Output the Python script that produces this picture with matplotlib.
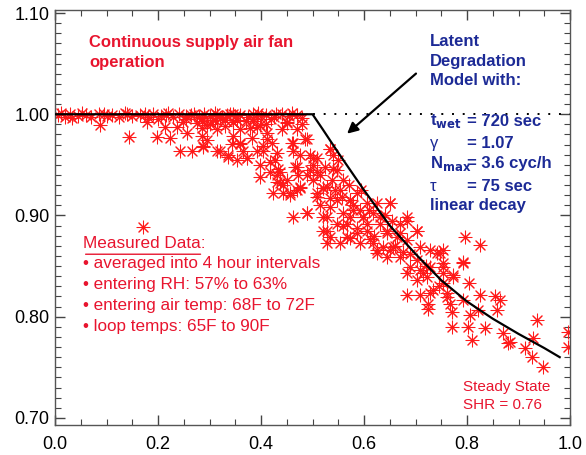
import matplotlib.pyplot as plt
from matplotlib.ticker import MultipleLocator

plt.rcParams['font.family'] = ['Liberation Sans', 'DejaVu Sans']

# -------------------------
# Datos medidos (SHR vs. fraccion de tiempo)
# -------------------------
band_x = [0.005, 0.02, 0.03, 0.045, 0.06, 0.07, 0.085, 0.10, 0.11, 0.125,
          0.14, 0.15, 0.165, 0.18, 0.19, 0.205, 0.215, 0.23, 0.24, 0.255,
          0.265, 0.28, 0.29, 0.30, 0.315, 0.325, 0.34, 0.35, 0.36, 0.375,
          0.385, 0.40, 0.41, 0.425, 0.44, 0.455, 0.47, 0.385, 0.33, 0.255,
          0.012, 0.052, 0.095, 0.135, 0.175, 0.22, 0.27, 0.31, 0.345, 0.395,
          0.43, 0.46, 0.48, 0.37, 0.285, 0.20]
band_y = [0.999, 0.997, 1.000, 0.998, 0.999, 0.997, 1.000, 0.998, 0.999, 0.997,
          1.000, 0.998, 0.999, 0.997, 1.000, 0.998, 0.999, 0.997, 1.000, 0.998,
          0.999, 0.997, 1.000, 0.998, 0.999, 0.997, 1.000, 0.998, 0.999, 0.997,
          1.000, 0.998, 0.999, 0.997, 1.000, 0.998, 0.999, 0.995, 0.994, 0.995,
          1.001, 1.001, 1.000, 1.001, 1.000, 1.001, 1.000, 1.001, 1.000, 1.001,
          1.000, 1.001, 0.996, 0.993, 0.996, 0.995]

cloud_x = [0.033, 0.087, 0.144, 0.198, 0.171, 0.178, 0.223, 0.214, 0.249, 0.243,
           0.266, 0.285, 0.288, 0.285, 0.314, 0.307, 0.256, 0.237, 0.275,
           0.311, 0.334, 0.353, 0.450, 0.320, 0.336, 0.359, 0.353, 0.373, 0.382,
           0.392, 0.412, 0.421, 0.404, 0.398, 0.398, 0.427, 0.431, 0.437, 0.443,
           0.460, 0.462, 0.466, 0.472, 0.470, 0.485, 0.495, 0.509, 0.495, 0.501,
           0.515, 0.520, 0.509, 0.534, 0.524, 0.548, 0.538, 0.544, 0.559, 0.557,
           0.573, 0.586, 0.579, 0.606, 0.598, 0.617, 0.462, 0.489, 0.520, 0.417,
           0.433, 0.450, 0.456, 0.476, 0.540, 0.365, 0.344, 0.480, 0.420,
           0.489, 0.509, 0.528, 0.521, 0.534, 0.528, 0.547, 0.559, 0.567, 0.553,
           0.579, 0.586, 0.573, 0.598, 0.605, 0.592, 0.618, 0.625, 0.650, 0.631,
           0.644, 0.637, 0.625, 0.650, 0.664, 0.670, 0.683, 0.702, 0.683, 0.670,
           0.689, 0.702, 0.683, 0.709, 0.722, 0.702, 0.683, 0.709, 0.734, 0.741,
           0.753, 0.753, 0.773, 0.761, 0.792, 0.796, 0.724, 0.767,
           0.715, 0.728, 0.725, 0.754, 0.754, 0.773, 0.793, 0.761, 0.771, 0.771,
           0.793, 0.803, 0.806, 0.802, 0.809, 0.825, 0.822, 0.835, 0.854, 0.864,
           0.858, 0.870, 0.883, 0.913, 0.926, 0.929, 0.935, 0.948, 0.996, 0.996,
           0.825, 0.880, 0.610, 0.640, 0.660, 0.595, 0.570, 0.550, 0.500, 0.470,
           0.440, 0.410, 0.385, 0.515, 0.560, 0.620, 0.655, 0.690, 0.720, 0.745,
           0.285, 0.300, 0.315, 0.330, 0.345, 0.360, 0.295, 0.336, 0.372, 0.359,
           0.346, 0.379, 0.398, 0.411, 0.417, 0.431, 0.437, 0.443, 0.450, 0.462,
           0.476, 0.470, 0.489, 0.501, 0.489, 0.476, 0.508, 0.520, 0.534, 0.540,
           0.534, 0.431, 0.424, 0.456, 0.295, 0.288, 0.320, 0.346, 0.392, 0.404,
           0.528, 0.553, 0.573, 0.534, 0.547, 0.573, 0.592, 0.605, 0.586, 0.567,
           0.612, 0.631, 0.650, 0.644, 0.656, 0.670, 0.683, 0.702, 0.676, 0.644,
           0.625, 0.709, 0.728, 0.748, 0.728, 0.754, 0.528]
cloud_y = [0.996, 0.989, 0.978, 0.978, 0.889, 0.992, 0.977, 0.987, 0.992, 0.964,
           0.964, 0.979, 0.968, 0.986, 0.964, 0.994, 0.981, 0.987, 0.991,
           0.994, 0.999, 0.994, 0.991, 0.964, 0.958, 0.971, 0.955, 0.957, 0.977,
           0.987, 0.981, 0.972, 0.964, 0.950, 0.938, 0.955, 0.940, 0.932, 0.922,
           0.972, 0.964, 0.948, 0.940, 0.925, 0.976, 0.960, 0.957, 0.945, 0.935,
           0.940, 0.927, 0.918, 0.966, 0.948, 0.945, 0.935, 0.925, 0.935, 0.918,
           0.915, 0.922, 0.905, 0.912, 0.898, 0.902, 0.898, 0.902, 0.898, 0.943,
           0.946, 0.935, 0.922, 0.928, 0.960, 0.964, 0.971, 0.990, 0.995,
           0.902, 0.922, 0.898, 0.885, 0.879, 0.873, 0.915, 0.902, 0.892, 0.873,
           0.910, 0.888, 0.878, 0.898, 0.885, 0.873, 0.873, 0.912, 0.912, 0.892,
           0.883, 0.869, 0.863, 0.866, 0.879, 0.892, 0.895, 0.885, 0.876, 0.859,
           0.849, 0.856, 0.843, 0.846, 0.839, 0.836, 0.821, 0.821, 0.826, 0.863,
           0.866, 0.849, 0.839, 0.823, 0.854, 0.879, 0.813, 0.813,
           0.843, 0.823, 0.808, 0.853, 0.833, 0.841, 0.853, 0.819, 0.805, 0.790,
           0.816, 0.833, 0.802, 0.790, 0.777, 0.821, 0.807, 0.789, 0.820, 0.816,
           0.807, 0.784, 0.775, 0.769, 0.760, 0.779, 0.797, 0.750, 0.785, 0.770,
           0.871, 0.774, 0.905, 0.900, 0.870, 0.925, 0.930, 0.955, 0.950, 0.985,
           0.985, 0.990, 0.993, 0.910, 0.890, 0.880, 0.895, 0.862, 0.850, 0.830,
           0.993, 0.990, 0.985, 0.988, 0.992, 0.985, 0.975, 0.960, 0.957, 0.972,
           0.979, 0.986, 0.989, 0.976, 0.953, 0.962, 0.943, 0.930, 0.992, 0.972,
           0.960, 0.948, 0.976, 0.957, 0.940, 0.927, 0.943, 0.927, 0.966, 0.946,
           0.917, 0.933, 0.922, 0.920, 0.989, 0.969, 0.996, 0.992, 0.964, 0.969,
           0.928, 0.925, 0.915, 0.908, 0.892, 0.898, 0.905, 0.892, 0.883, 0.879,
           0.877, 0.898, 0.912, 0.885, 0.869, 0.883, 0.898, 0.885, 0.864, 0.859,
           0.866, 0.869, 0.866, 0.863, 0.849, 0.843, 0.885]

shr_x = band_x + cloud_x
shr_y = band_y + cloud_y

# -------------------------
# Modelo de degradacion latente
# -------------------------
model_x = [0.0, 0.50, 0.52, 0.55, 0.60, 0.65, 0.70, 0.75, 0.80, 0.85, 0.90, 0.95, 0.98]
model_y = [1.0, 1.0, 0.985, 0.962, 0.925, 0.890, 0.862, 0.836, 0.815, 0.798, 0.783, 0.769, 0.760]

red = '#e8142e'
blue = '#1c2a96'

fig = plt.figure(figsize=(5.86, 4.55), dpi=100)
ax = fig.add_axes([0.0939, 0.066, 0.8788, 0.912])

ax.scatter(shr_x, shr_y, s=85, marker=(8, 2, 0), color='#ff1a1a', linewidths=0.75, zorder=2)
ax.plot(model_x, model_y, color='black', lw=1.6, zorder=3)
ax.plot([0.5, 1.0], [1.0, 1.0], color='black', lw=1.4, linestyle=(0, (1, 4.5)), zorder=3)

ax.set_xlim(0, 1.0)
ax.set_ylim(0.693, 1.103)
ax.xaxis.set_major_locator(MultipleLocator(0.2))
ax.xaxis.set_minor_locator(MultipleLocator(0.05))
ax.yaxis.set_major_locator(MultipleLocator(0.1))
ax.yaxis.set_minor_locator(MultipleLocator(0.01))
ax.xaxis.set_major_formatter(lambda v, p: f"{v:.1f}")
ax.yaxis.set_major_formatter(lambda v, p: f"{v:.2f}")
ax.tick_params(which='both', direction='in', top=True, right=True, color='#444444')
ax.tick_params(which='major', length=7, width=1, labelsize=13)
ax.tick_params(axis='x', which='major', pad=8)
ax.tick_params(axis='y', which='major', pad=4)
ax.tick_params(which='minor', length=4, width=0.8)
for s in ax.spines.values():
    s.set_color('#555555')
    s.set_linewidth(1.0)

ax.text(0.066, 1.078, "Continuous supply air fan\noperation", color=red,
        fontsize=12, fontweight='bold', va='top', ha='left', linespacing=1.4)

ax.text(0.728, 1.079, "Latent\nDegradation\nModel with:", color=blue,
        fontsize=12, fontweight='bold', va='top', ha='left', linespacing=1.38)
params_lab = [r"t$_{\mathbf{wet}}$", "γ", r"N$_{\mathbf{max}}$", "τ"]
params_val = ["= 720 sec", "= 1.07", "= 3.6 cyc/h", "= 75 sec"]
params_yy = [0.993, 0.971, 0.951, 0.929]
for lab, val, yy in zip(params_lab, params_val, params_yy):
    w = 'normal' if lab in ("γ", "τ") else 'bold'
    ax.text(0.728, yy, lab, color=blue, fontsize=12, fontweight=w, va='center', ha='left')
    ax.text(0.800, yy, val, color=blue, fontsize=12, fontweight='bold', va='center', ha='left')
ax.text(0.728, 0.910, "linear decay", color=blue, fontsize=12, fontweight='bold',
        va='center', ha='left')

ax.annotate("", xy=(0.563, 0.979), xytext=(0.705, 1.042),
            arrowprops=dict(arrowstyle='-|>', color='black', lw=1.6, mutation_scale=16))

meas = ["Measured Data:", "• averaged into 4 hour intervals", "• entering RH: 57% to 63%",
        "• entering air temp: 68F to 72F", "• loop temps: 65F to 90F"]
meas_yy = [0.8727, 0.853, 0.832, 0.811, 0.790]
for i, (t, yy) in enumerate(zip(meas, meas_yy)):
    ax.text(0.054, yy, t, color=red, fontsize=12.3, va='center', ha='left')
    if i == 0:
        ax.annotate("", xy=(0.054, yy - 0.011), xytext=(0.288, yy - 0.011),
                    arrowprops=dict(arrowstyle='-', color=red, lw=1.0))

ax.text(0.792, 0.7305, "Steady State", color=red, fontsize=11, va='center', ha='left')
ax.text(0.792, 0.7127, "SHR = 0.76", color=red, fontsize=11, va='center', ha='left')

fig.savefig("out.png", dpi=100)
